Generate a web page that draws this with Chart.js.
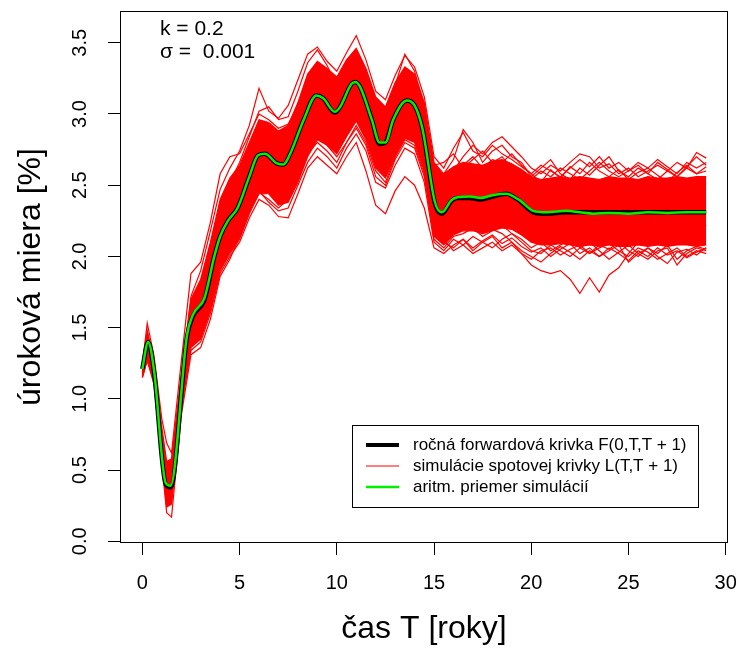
<!DOCTYPE html>
<html>
<head>
<meta charset="utf-8">
<script src="https://cdn.jsdelivr.net/npm/chart.js@4"></script>
<style>
html, body { margin: 0; padding: 0; background: #fff; }
</style>
</head>
<body>
<canvas id="chart" width="740" height="648"></canvas>
<script>
// time grid shared by the simulated spot curves
const simTimes = [0, 0.25, 0.6, 1, 1.25, 1.5, 2, 2.5, 3, 3.5, 4, 4.5, 5, 5.5, 6, 6.5, 7, 7.5, 8, 8.5, 9, 9.5,
  10, 10.5, 11, 11.5, 12, 12.5, 13, 13.5, 14, 14.5, 15, 15.5, 16, 16.5, 17, 17.5, 18, 18.5, 19, 19.5,
  20, 20.5, 21, 21.5, 22, 22.5, 23, 23.5, 24, 24.5, 25, 25.5, 26, 26.5, 27, 27.5, 28, 28.5, 29]

// dense core of the simulations (upper / lower edge)
const bandUpper = [1.25, 1.48, 1.27, 0.80, 0.56, 0.58, 1.16, 1.70, 1.84, 2.10, 2.40, 2.55, 2.64, 2.80, 2.96, 2.94, 2.88, 2.92, 3.08, 3.28, 3.37, 3.32,
  3.26, 3.38, 3.46, 3.32, 3.12, 3.05, 3.22, 3.33, 3.28, 3.08, 2.66, 2.58, 2.63, 2.66, 2.65, 2.64, 2.67, 2.68, 2.65, 2.61,
  2.56, 2.54, 2.55, 2.56, 2.55, 2.56, 2.55, 2.54, 2.56, 2.55, 2.55, 2.54, 2.56, 2.55, 2.55, 2.56, 2.55, 2.56, 2.56]
const bandLower = [1.15, 1.27, 1.12, 0.56, 0.24, 0.26, 0.92, 1.36, 1.42, 1.62, 1.90, 2.02, 2.12, 2.30, 2.44, 2.44, 2.36, 2.38, 2.52, 2.70, 2.82, 2.78,
  2.72, 2.84, 2.95, 2.82, 2.62, 2.55, 2.70, 2.83, 2.80, 2.60, 2.14, 2.08, 2.15, 2.18, 2.18, 2.16, 2.18, 2.20, 2.19, 2.15,
  2.10, 2.08, 2.08, 2.09, 2.08, 2.07, 2.08, 2.07, 2.08, 2.07, 2.07, 2.08, 2.07, 2.08, 2.07, 2.08, 2.08, 2.07, 2.08]

// individual simulations that stick out of the core
const simLine1 = [1.23, 1.46, 1.26, 0.74, 0.50, 0.52, 1.14, 1.72, 1.90, 2.18, 2.47, 2.62, 2.74, 2.92, 3.18, 3.02, 2.97, 3.06, 3.24, 3.42, 3.47, 3.37,
  3.30, 3.43, 3.55, 3.38, 3.16, 3.10, 3.27, 3.41, 3.33, 3.12, 2.70, 2.62, 2.76, 2.87, 2.74, 2.70, 2.78, 2.72, 2.68, 2.63,
  2.58, 2.52, 2.61, 2.55, 2.63, 2.58, 2.66, 2.60, 2.56, 2.61, 2.54, 2.59, 2.62, 2.57, 2.52, 2.59, 2.64, 2.58, 2.60]
const simLine2 = [1.16, 1.29, 1.13, 0.58, 0.28, 0.27, 0.94, 1.34, 1.40, 1.60, 1.88, 2.00, 2.10, 2.27, 2.40, 2.36, 2.28, 2.27, 2.44, 2.62, 2.70, 2.64,
  2.58, 2.70, 2.80, 2.60, 2.36, 2.30, 2.46, 2.56, 2.50, 2.34, 2.06, 2.02, 2.08, 2.12, 2.06, 2.11, 2.15, 2.09, 2.13, 2.07,
  2.03, 2.06, 2.00, 2.05, 2.09, 2.02, 2.06, 2.00, 2.04, 2.08, 1.96, 2.02, 2.06, 2.00, 1.95, 2.03, 2.05, 2.01, 2.06]
const simLine3 = [1.20, 1.40, 1.19, 0.65, 0.38, 0.41, 1.02, 1.50, 1.60, 1.80, 2.08, 2.20, 2.30, 2.48, 2.62, 2.60, 2.54, 2.57, 2.74, 2.92, 3.02, 2.96,
  2.90, 3.00, 3.10, 2.96, 2.74, 2.68, 2.86, 2.98, 2.94, 2.72, 2.30, 2.22, 2.28, 2.30, 2.25, 2.21, 2.19, 2.16, 2.10, 2.02,
  1.94, 1.90, 1.88, 1.90, 1.84, 1.74, 1.85, 1.75, 1.87, 1.92, 2.02, 2.10, 2.16, 2.12, 2.18, 2.14, 2.20, 2.16, 2.22]
const simLine4 = [1.22, 1.42, 1.23, 0.70, 0.44, 0.46, 1.10, 1.62, 1.76, 1.98, 2.28, 2.42, 2.52, 2.70, 2.86, 2.84, 2.78, 2.82, 2.98, 3.16, 3.26, 3.20,
  3.14, 3.26, 3.35, 3.20, 2.98, 2.92, 3.10, 3.22, 3.18, 2.98, 2.56, 2.50, 2.60, 2.70, 2.78, 2.72, 2.80, 2.84, 2.77, 2.70,
  2.62, 2.58, 2.64, 2.60, 2.66, 2.72, 2.70, 2.62, 2.65, 2.58, 2.62, 2.56, 2.60, 2.64, 2.60, 2.66, 2.62, 2.73, 2.69]
const simLine5 = [1.24, 1.53, 1.30, 0.86, 0.69, 0.62, 1.26, 1.88, 1.96, 2.24, 2.58, 2.70, 2.72, 2.86, 3.00, 2.96, 2.90, 2.93, 3.06, 3.25, 3.34, 3.28,
  3.22, 3.34, 3.42, 3.30, 3.08, 3.02, 3.20, 3.42, 3.30, 3.05, 2.62, 2.55, 2.58, 2.62, 2.58, 2.62, 2.66, 2.60, 2.58, 2.54,
  2.50, 2.46, 2.52, 2.49, 2.54, 2.50, 2.47, 2.52, 2.55, 2.50, 2.46, 2.52, 2.48, 2.53, 2.50, 2.46, 2.52, 2.49, 2.51]
const simLine6 = [1.15, 1.27, 1.10, 0.55, 0.20, 0.17, 0.88, 1.31, 1.36, 1.56, 1.86, 1.98, 2.14, 2.32, 2.45, 2.40, 2.34, 2.40, 2.55, 2.72, 2.80, 2.74,
  2.66, 2.80, 2.92, 2.80, 2.60, 2.52, 2.70, 2.82, 2.78, 2.58, 2.12, 2.06, 2.14, 2.16, 2.20, 2.14, 2.18, 2.22, 2.16, 2.12,
  2.06, 2.10, 2.04, 2.08, 2.12, 2.06, 2.02, 2.08, 2.05, 2.10, 2.04, 2.00, 2.06, 2.02, 2.08, 1.98, 2.04, 2.07, 2.05]
const simLine7 = [1.22, 1.44, 1.24, 0.76, 0.52, 0.54, 1.16, 1.66, 1.82, 2.08, 2.36, 2.52, 2.66, 2.84, 3.02, 3.05, 2.96, 2.98, 3.16, 3.36, 3.45, 3.34,
  3.20, 3.30, 3.40, 3.26, 3.05, 2.98, 3.14, 3.28, 3.24, 3.04, 2.64, 2.66, 2.72, 2.62, 2.68, 2.74, 2.66, 2.70, 2.62, 2.60,
  2.54, 2.60, 2.56, 2.62, 2.58, 2.54, 2.60, 2.66, 2.60, 2.56, 2.60, 2.64, 2.58, 2.54, 2.60, 2.56, 2.62, 2.58, 2.63]
const simLine8 = [1.17, 1.32, 1.14, 0.60, 0.30, 0.31, 0.96, 1.40, 1.46, 1.66, 1.94, 2.06, 2.16, 2.34, 2.46, 2.38, 2.32, 2.34, 2.50, 2.66, 2.76, 2.70,
  2.62, 2.76, 2.86, 2.74, 2.52, 2.48, 2.64, 2.76, 2.72, 2.52, 2.10, 2.04, 2.12, 2.08, 2.14, 2.10, 2.06, 2.12, 2.16, 2.10,
  2.04, 2.02, 2.08, 2.04, 2.00, 2.06, 2.10, 2.04, 1.98, 2.03, 2.08, 2.02, 1.98, 2.04, 2.06, 1.94, 2.02, 2.06, 2.04]
const simLine9 = [1.21, 1.39, 1.20, 0.68, 0.42, 0.44, 1.08, 1.58, 1.70, 1.90, 2.20, 2.34, 2.44, 2.62, 2.78, 2.76, 2.72, 2.76, 2.92, 3.10, 3.20, 3.14,
  3.08, 3.18, 3.28, 3.14, 2.94, 2.86, 3.04, 3.16, 3.12, 2.92, 2.52, 2.48, 2.58, 2.64, 2.70, 2.62, 2.68, 2.66, 2.72, 2.64,
  2.58, 2.64, 2.60, 2.56, 2.62, 2.68, 2.63, 2.70, 2.62, 2.66, 2.60, 2.66, 2.62, 2.68, 2.63, 2.58, 2.66, 2.62, 2.66]
const simLine10 = [1.19, 1.35, 1.16, 0.62, 0.34, 0.36, 0.98, 1.44, 1.52, 1.72, 2.00, 2.12, 2.22, 2.40, 2.54, 2.52, 2.46, 2.50, 2.64, 2.82, 2.92, 2.86,
  2.80, 2.92, 3.02, 2.88, 2.66, 2.60, 2.78, 2.90, 2.86, 2.66, 2.20, 2.12, 2.04, 2.08, 2.02, 2.06, 2.10, 2.04, 2.08, 2.02,
  1.98, 2.04, 2.06, 2.01, 2.05, 2.08, 2.02, 2.06, 2.09, 2.04, 2.00, 2.06, 2.03, 1.98, 2.02, 2.06, 2.00, 2.04, 2.02]
const simLine11 = [1.22, 1.43, 1.22, 0.72, 0.46, 0.48, 1.12, 1.64, 1.74, 1.96, 2.30, 2.46, 2.58, 2.76, 2.90, 2.92, 2.86, 2.88, 3.02, 3.20, 3.30, 3.26,
  3.18, 3.30, 3.36, 3.22, 3.02, 2.94, 3.14, 3.30, 3.22, 3.02, 2.60, 2.58, 2.68, 2.89, 2.80, 2.66, 2.74, 2.78, 2.70, 2.66,
  2.56, 2.62, 2.68, 2.58, 2.54, 2.62, 2.57, 2.64, 2.70, 2.60, 2.56, 2.62, 2.58, 2.66, 2.61, 2.56, 2.63, 2.70, 2.64]
const simLine12 = [1.18, 1.33, 1.15, 0.61, 0.32, 0.33, 0.97, 1.42, 1.48, 1.70, 1.96, 2.08, 2.20, 2.38, 2.50, 2.46, 2.40, 2.42, 2.58, 2.74, 2.84, 2.78,
  2.70, 2.80, 2.90, 2.78, 2.56, 2.50, 2.68, 2.80, 2.76, 2.56, 2.16, 2.10, 2.06, 2.12, 2.04, 2.10, 2.14, 2.06, 2.10, 2.04,
  2.00, 1.96, 2.02, 2.07, 2.03, 1.98, 2.04, 2.00, 2.06, 2.02, 1.97, 2.04, 2.00, 2.06, 2.01, 2.04, 1.99, 2.03, 2.06]

// forward curve and mean of the simulations
const meanTimes = [0, 0.3, 0.6, 1.2, 1.45, 2.3, 2.6, 3.2, 3.7, 4.0, 4.4, 4.9, 5.5, 5.95, 6.3, 6.9, 7.25, 7.6, 8.3, 8.95,
  9.3, 9.9, 10.15, 10.75, 10.95, 11.2, 11.8, 12.2, 12.5, 12.9, 13.6, 14.0, 14.4, 15.05, 15.4, 15.9, 16.2, 16.85, 17.4, 18.0,
  18.7, 19.4, 20.1, 20.8, 21.8, 22.5, 23.2, 24.0, 25.0, 26.0, 27.0, 28.0, 29.0]
const meanValues = [1.21, 1.40, 1.20, 0.41, 0.39, 1.45, 1.59, 1.71, 2.00, 2.14, 2.25, 2.34, 2.56, 2.71, 2.72, 2.655, 2.645, 2.72, 2.96, 3.13,
  3.11, 3.015, 3.045, 3.21, 3.225, 3.19, 2.96, 2.80, 2.80, 2.96, 3.095, 3.06, 2.90, 2.38, 2.31, 2.395, 2.415, 2.42, 2.41, 2.43,
  2.44, 2.395, 2.32, 2.31, 2.32, 2.31, 2.30, 2.305, 2.30, 2.31, 2.305, 2.31, 2.31]
const forwardValues = [1.21, 1.40, 1.19, 0.40, 0.38, 1.44, 1.58, 1.70, 2.00, 2.14, 2.25, 2.34, 2.56, 2.71, 2.72, 2.655, 2.645, 2.72, 2.96, 3.13,
  3.11, 3.01, 3.045, 3.21, 3.225, 3.19, 2.96, 2.79, 2.80, 2.96, 3.095, 3.06, 2.90, 2.37, 2.30, 2.39, 2.41, 2.41, 2.40, 2.42,
  2.44, 2.39, 2.31, 2.30, 2.31, 2.31, 2.31, 2.31, 2.31, 2.31, 2.31, 2.31, 2.31]

const xTickValues = [0, 5, 10, 15, 20, 25, 30]
const yTickValues = [0, 0.5, 1, 1.5, 2, 2.5, 3, 3.5]
const legendLabels = ['ročná forwardová krivka F(0,T,T + 1)', 'simulácie spotovej krivky L(T,T + 1)', 'aritm. priemer simulácií']
const legendColors = ['#000000', '#ff0000', '#00f000']
const legendWidths = [4, 1.2, 2.5]
const noteLines = ['k = 0.2', 'σ =  0.001']

const FONT = '"Liberation Sans", Arial, Helvetica, sans-serif'
const simLines = [simLine1, simLine2, simLine3, simLine4, simLine5, simLine6, simLine7, simLine8, simLine9, simLine10, simLine11, simLine12]

function toPoints(xs, ys) {
    return xs.map(function (x, i) { return { x: x, y: ys[i] } })
}

const boxPlugin = {
    id: 'boxPlugin',
    afterDraw(chart) {
        const ctx = chart.ctx
        const a = chart.chartArea
        ctx.save()
        ctx.strokeStyle = '#000'
        ctx.lineWidth = 1
        ctx.strokeRect(a.left + 0.5, a.top + 0.5, a.right - a.left - 1, a.bottom - a.top - 1)

        // k / sigma note, top left
        ctx.fillStyle = '#000'
        ctx.font = '21px ' + FONT
        ctx.textBaseline = 'alphabetic'
        ctx.textAlign = 'left'
        ctx.fillText(noteLines[0], a.left + 40, a.top + 24)
        ctx.fillText(noteLines[1], a.left + 40, a.top + 47)

        // legend box, bottom right
        const lx = a.right - 376, ly = a.bottom - 118, lw = 346, lh = 82
        ctx.fillStyle = '#fff'
        ctx.fillRect(lx, ly, lw, lh)
        ctx.strokeRect(lx + 0.5, ly + 0.5, lw, lh)
        ctx.font = '17px ' + FONT
        ctx.textBaseline = 'middle'
        for (let i = 0; i < legendLabels.length; i++) {
            const ry = ly + 20 + i * 21
            ctx.beginPath()
            ctx.strokeStyle = legendColors[i]
            ctx.lineWidth = legendWidths[i]
            ctx.moveTo(lx + 14, ry)
            ctx.lineTo(lx + 47, ry)
            ctx.stroke()
            ctx.fillStyle = '#000'
            ctx.fillText(legendLabels[i], lx + 61, ry)
        }
        ctx.restore()
    }
}

const datasets = [
    {
        label: legendLabels[2],
        data: toPoints(meanTimes, meanValues),
        borderColor: '#00f000',
        borderWidth: 2.5,
        cubicInterpolationMode: 'monotone'
    },
    {
        label: legendLabels[0],
        data: toPoints(meanTimes, forwardValues),
        borderColor: '#000000',
        borderWidth: 4.5,
        cubicInterpolationMode: 'monotone'
    },
    {
        label: 'band upper',
        data: toPoints(simTimes, bandUpper),
        borderColor: '#ff0000',
        backgroundColor: '#ff0000',
        borderWidth: 1.2,
        fill: '+1'
    },
    {
        label: 'band lower',
        data: toPoints(simTimes, bandLower),
        borderColor: '#ff0000',
        borderWidth: 1.2,
        fill: false
    }
]
simLines.forEach(function (line, i) {
    datasets.push({
        label: 'sim ' + (i + 1),
        data: toPoints(simTimes, line),
        borderColor: '#ff0000',
        borderWidth: 1.2,
        fill: false
    })
})

const canvas = document.getElementById('chart')
const myChart = new Chart(canvas, {
    type: 'line',
    data: { datasets: datasets },
    options: {
        responsive: false,
        animation: false,
        devicePixelRatio: 1,
        elements: { point: { radius: 0 }, line: { tension: 0 } },
        layout: { padding: { top: 11, right: 12, left: 0, bottom: 0 } },
        plugins: { legend: { display: false }, tooltip: { enabled: false } },
        scales: {
            x: {
                type: 'linear',
                min: -1.15,
                max: 30.12,
                afterBuildTicks: function (scale) { scale.ticks = xTickValues.map(function (v) { return { value: v } }) },
                afterFit: function (scale) {
                    scale.height = 105
                    scale.paddingLeft = 0
                    scale.paddingRight = 0
                },
                grid: { drawOnChartArea: false, drawTicks: true, tickLength: 12, color: '#000' },
                border: { display: false },
                ticks: {
                    maxRotation: 0,
                    padding: 16,
                    color: '#000',
                    font: { family: FONT, size: 20 },
                    callback: function (v) { return String(v) }
                },
                title: {
                    display: true,
                    text: 'čas T [roky]',
                    color: '#000',
                    font: { family: FONT, size: 32 },
                    padding: { top: 0, bottom: 0 }
                }
            },
            y: {
                type: 'linear',
                min: -0.012,
                max: 3.723,
                afterBuildTicks: function (scale) { scale.ticks = yTickValues.map(function (v) { return { value: v } }) },
                afterFit: function (scale) {
                    scale.width = 120
                    scale.paddingTop = 0
                    scale.paddingBottom = 0
                },
                grid: { drawOnChartArea: false, drawTicks: true, tickLength: 12, color: '#000' },
                border: { display: false },
                ticks: {
                    minRotation: 90,
                    maxRotation: 90,
                    crossAlign: 'center',
                    padding: 14,
                    color: '#000',
                    font: { family: FONT, size: 20 },
                    callback: function (v) { return v.toFixed(1) }
                },
                title: {
                    display: true,
                    text: 'úroková miera [%]',
                    color: '#000',
                    font: { family: FONT, size: 32 },
                    padding: { top: 12, bottom: 0 }
                }
            }
        }
    },
    plugins: [boxPlugin]
})
</script>
</body>
</html>
